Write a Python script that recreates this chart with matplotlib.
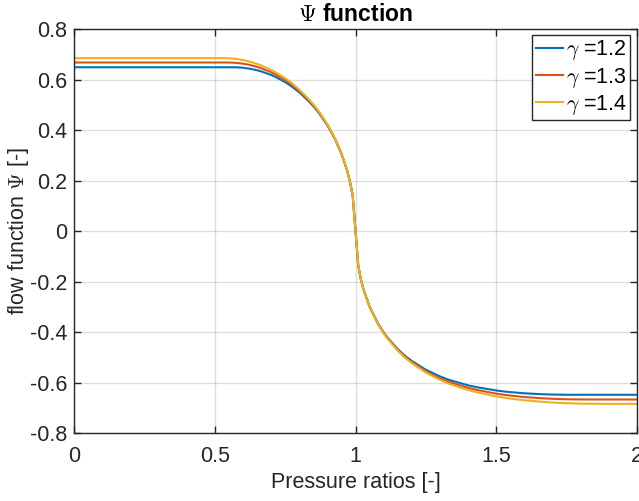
import matplotlib
matplotlib.use("Agg")
import matplotlib.pyplot as plt

plt.rcParams["font.family"] = ["Liberation Sans", "DejaVu Sans"]
plt.rcParams["mathtext.fontset"] = "cm"

# pressure ratio samples
pressure_ratio = [0.0, 0.5, 0.53, 0.55, 0.556, 0.57, 0.588, 0.6, 0.625, 0.65,
                  0.667, 0.7, 0.714, 0.75, 0.769, 0.8, 0.833, 0.85, 0.87, 0.9,
                  0.909, 0.93, 0.95, 0.97, 0.98, 0.99, 1.0, 1.01, 1.02, 1.03,
                  1.05, 1.08, 1.1, 1.111, 1.15, 1.176, 1.2, 1.25, 1.3, 1.333,
                  1.4, 1.429, 1.5, 1.538, 1.6, 1.667, 1.7, 1.754, 1.8, 1.818,
                  1.9, 2.0]

# flow function values for each isentropic exponent
psi_gamma_12 = [0.6485, 0.6485, 0.6485, 0.6485, 0.6485, 0.6485, 0.6477, 0.6466,
                0.6427, 0.6368, 0.6316, 0.6182, 0.6112, 0.5898, 0.5758, 0.5496,
                0.5148, 0.4946, 0.4679, 0.4186, 0.4017, 0.3575, 0.3062, 0.2403,
                0.1975, 0.1405, 0.0, -0.1399, -0.1956, -0.2369, -0.2993,
                -0.3668, -0.4017, -0.4186, -0.4679, -0.4946, -0.5148, -0.5496,
                -0.5758, -0.5898, -0.6112, -0.6182, -0.6316, -0.6368, -0.6427,
                -0.6466, -0.6477, -0.6485, -0.6485, -0.6485, -0.6485, -0.6485]
psi_gamma_13 = [0.6673, 0.6673, 0.6673, 0.6672, 0.6671, 0.6664, 0.6645, 0.6627,
                0.6575, 0.6502, 0.6441, 0.6290, 0.6212, 0.5980, 0.5832, 0.5555,
                0.5194, 0.4984, 0.4710, 0.4208, 0.4035, 0.3588, 0.3070, 0.2407,
                0.1977, 0.1406, 0.0, -0.1399, -0.1958, -0.2373, -0.3000,
                -0.3681, -0.4035, -0.4208, -0.4710, -0.4984, -0.5194, -0.5555,
                -0.5832, -0.5980, -0.6212, -0.6290, -0.6441, -0.6502, -0.6575,
                -0.6627, -0.6645, -0.6664, -0.6671, -0.6672, -0.6673, -0.6673]
psi_gamma_14 = [0.6847, 0.6847, 0.6847, 0.6840, 0.6836, 0.6821, 0.6793, 0.6769,
                0.6704, 0.6619, 0.6550, 0.6383, 0.6299, 0.6052, 0.5895, 0.5607,
                0.5233, 0.5018, 0.4737, 0.4226, 0.4051, 0.3599, 0.3076, 0.2410,
                0.1979, 0.1407, 0.0, -0.1400, -0.1959, -0.2376, -0.3006,
                -0.3693, -0.4051, -0.4226, -0.4737, -0.5018, -0.5233, -0.5607,
                -0.5895, -0.6052, -0.6299, -0.6383, -0.6550, -0.6619, -0.6704,
                -0.6769, -0.6793, -0.6821, -0.6836, -0.6840, -0.6847, -0.6847]

series_labels = [r"$\gamma$ =1.2", r"$\gamma$ =1.3", r"$\gamma$ =1.4"]
series_colors = ["#0072BD", "#D95319", "#EDB120"]

x_ticks = [0, 0.5, 1, 1.5, 2]
x_tick_labels = ["0", "0.5", "1", "1.5", "2"]
y_ticks = [-0.8, -0.6, -0.4, -0.2, 0, 0.2, 0.4, 0.6, 0.8]
y_tick_labels = ["-0.8", "-0.6", "-0.4", "-0.2", "0", "0.2", "0.4", "0.6", "0.8"]

dark = "#262626"
fs = 15.5

fig = plt.figure(figsize=(6.39, 5.01), dpi=100)
ax = fig.add_axes([0.1158, 0.1357, 0.8811, 0.8064])

for values, label, color in zip([psi_gamma_12, psi_gamma_13, psi_gamma_14],
                                series_labels, series_colors):
    ax.plot(pressure_ratio, values, color=color, lw=1.5, label=label)

ax.set_xlim(0, 2)
ax.set_ylim(-0.8, 0.8)
ax.set_xticks(x_ticks)
ax.set_xticklabels(x_tick_labels)
ax.set_yticks(y_ticks)
ax.set_yticklabels(y_tick_labels)
ax.tick_params(direction="in", top=True, right=True, length=5, width=1,
               colors=dark, labelsize=fs, pad=5)
ax.tick_params(axis="x", pad=9)
ax.grid(True, color=dark, alpha=0.15, lw=1)
for spine in ax.spines.values():
    spine.set_color(dark)
    spine.set_linewidth(1)

ax.set_title(r"$\Psi$ function", fontsize=16.5, fontweight="bold", pad=6,
             color="black")
ax.set_xlabel("Pressure ratios [-]", fontsize=fs, color=dark, labelpad=4)
ax.set_ylabel(r"flow function $\Psi$ [-]", fontsize=fs, color=dark, labelpad=-1)

leg = ax.legend(loc="upper right", bbox_to_anchor=(0.9876, 0.985),
                borderaxespad=0, fontsize=fs, frameon=True, fancybox=False,
                edgecolor=dark, framealpha=1, handlelength=1.25,
                handletextpad=0.15, borderpad=0.15, labelspacing=0.15)
leg.get_frame().set_linewidth(1)

fig.savefig("out.png", dpi=100)
